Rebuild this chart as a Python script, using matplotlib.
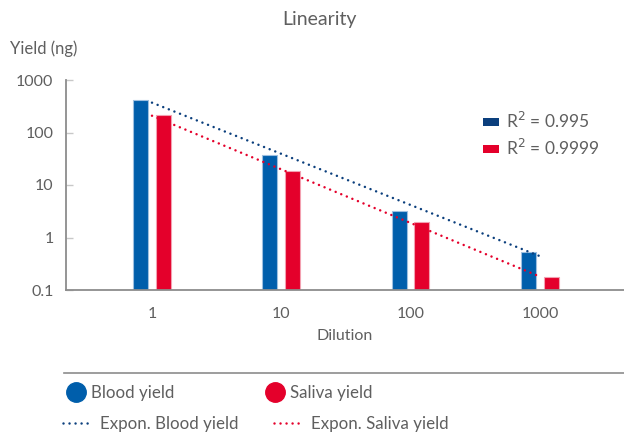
import numpy as np
import matplotlib
matplotlib.use("Agg")
import matplotlib.pyplot as plt
from matplotlib.lines import Line2D
from matplotlib.patches import Patch

# ---- data ----
categories = ["1", "10", "100", "1000"]
blood_yield = [416, 37.3, 3.24, 0.53]
saliva_yield = [215, 18.7, 1.95, 0.18]
y_ticks = [0.1, 1, 10, 100, 1000]
y_tick_labels = ["0.1", "1", "10", "100", "1000"]
r2_labels = ["R$^2$ = 0.995", "R$^2$ = 0.9999"]

# ---- style ----
plt.rcParams['font.family'] = ['Lato', 'DejaVu Sans']
TXT = "#5f5f5f"
BLUE = "#005EAB"
BLUE_EDGE = "#9DBFE0"
NAVY = "#0B3F7D"
RED = "#E4002B"
RED_EDGE = "#F3A0B0"
DOTS = (0, (0.01, 2.4))
DLW = 1.8

W, H = 624, 433
fig = plt.figure(figsize=(W / 100, H / 100), dpi=100)
ax = fig.add_axes([66 / W, 1 - 290 / H, (624 - 66) / W, (290 - 80) / H])

x = np.arange(1, len(categories) + 1)
off = 0.0875
bw = 0.116
ax.bar(x - off, blood_yield, width=bw, color=BLUE, edgecolor=BLUE_EDGE, linewidth=0.8, zorder=2)
ax.bar(x + off, saliva_yield, width=bw, color=RED, edgecolor=RED_EDGE, linewidth=0.8, zorder=2)

# exponential trend lines (fit of log10(y) on category index)
xs = np.array([x[0], x[-1]], dtype=float)
for vals, col in [(blood_yield, NAVY), (saliva_yield, RED)]:
    k, b = np.polyfit(x, np.log10(vals), 1)
    ax.plot(xs, 10 ** (k * xs + b), color=col, linewidth=DLW,
            linestyle=DOTS, dash_capstyle='round', zorder=3)

ax.set_yscale('log')
ax.set_ylim(0.1, 1000)
ax.set_xlim(1 - 86 / 129.3, 1 + (624 - 152) / 129.3)
ax.set_yticks(y_ticks)
ax.set_yticklabels(y_tick_labels)
ax.yaxis.set_minor_locator(matplotlib.ticker.NullLocator())
ax.set_xticks(x)
ax.set_xticklabels(categories)
ax.tick_params(axis='y', direction='in', length=5, width=1, color="#c8c8c8",
               labelsize=11.5, labelcolor=TXT, pad=9)
ax.tick_params(axis='x', length=0, labelsize=11.5, labelcolor=TXT, pad=12)
for s in ['top', 'right']:
    ax.spines[s].set_visible(False)
for s in ['left', 'bottom']:
    ax.spines[s].set_color("#8c8c8c")
    ax.spines[s].set_linewidth(1.3)
ax.set_xlabel("Dilution", fontsize=11.5, color=TXT, labelpad=6)

# R^2 legend
r2_handles = [Patch(facecolor=NAVY, edgecolor='none'), Patch(facecolor=RED, edgecolor='none')]
ax.legend(r2_handles, r2_labels, loc='upper left',
          bbox_to_anchor=((483 - 66) / (624 - 66), 1 - (111 - 80) / 210),
          frameon=False, fontsize=12.5, labelcolor=TXT,
          handlelength=0.95, handleheight=0.37, handletextpad=0.4,
          labelspacing=0.4, borderpad=0, borderaxespad=0)

# titles
fig.text(319 / W, 1 - 20 / H, "Linearity", ha='center', va='center', fontsize=14, color=TXT)
fig.text(10 / W, 1 - 49 / H, "Yield (ng)", ha='left', va='center', fontsize=12, color=TXT)

# separator line
fig.add_artist(Line2D([64 / W, 1.0], [1 - 373 / H, 1 - 373 / H], color="#8c8c8c", linewidth=1.2))

# bottom legend: row of bar series, row of trend lines
FS = 12.2
row1 = [Line2D([], [], marker='o', linestyle='none', markersize=14, color=BLUE),
        Line2D([], [], marker='o', linestyle='none', markersize=14, color=RED)]
fig.legend(row1, ["Blood yield", "Saliva yield"], ncol=2, loc='center left',
           bbox_to_anchor=(66 / W, 1 - 393 / H), frameon=False,
           fontsize=FS, labelcolor=TXT, handlelength=1.2, handletextpad=0.3,
           columnspacing=5.3, borderpad=0, borderaxespad=0)
row2 = [Line2D([], [], color=NAVY, linewidth=DLW, linestyle=DOTS, dash_capstyle='round'),
        Line2D([], [], color=RED, linewidth=DLW, linestyle=DOTS, dash_capstyle='round')]
fig.legend(row2, ["Expon. Blood yield", "Expon. Saliva yield"], ncol=2, loc='center left',
           bbox_to_anchor=(63 / W, 1 - 424 / H), frameon=False,
           fontsize=FS, labelcolor=TXT, handlelength=1.78, handletextpad=0.41,
           columnspacing=2.1, borderpad=0, borderaxespad=0)

fig.savefig("out.png", dpi=100)
